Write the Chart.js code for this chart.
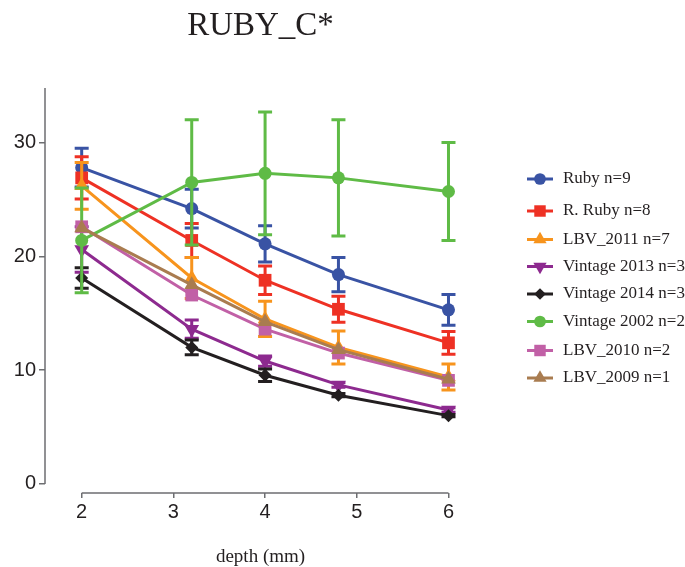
<!DOCTYPE html>
<html>
<head>
<meta charset="utf-8">
<title>RUBY_C*</title>
<script src="https://cdn.jsdelivr.net/npm/chart.js@4"></script>
<style>
  html, body { margin: 0; padding: 0; background: #fff; }
  #wrap { width: 685px; height: 567px; }
</style>
</head>
<body>
<div id="wrap"><canvas id="chart" width="685" height="567"></canvas></div>
<script>
// depth (mm) at which each series was sampled
const depth = [2, 3.2, 4, 4.8, 6];

const labels = [
  "Ruby n=9", "R. Ruby n=8", "LBV_2011 n=7", "Vintage 2013 n=3",
  "Vintage 2014 n=3", "Vintage 2002 n=2", "LBV_2010 n=2", "LBV_2009 n=1",
];

// mean C* and error
const rubyMean = [27.8, 24.2, 21.1, 18.4, 15.3];
const rubyErr = [1.7, 1.7, 1.6, 1.5, 1.35];
const rRubyMean = [26.9, 21.4, 17.9, 15.35, 12.4];
const rRubyErr = [1.85, 1.5, 1.25, 1.15, 1.0];
const lbv2011Mean = [26.2, 18.1, 14.5, 12.0, 9.4];
const lbv2011Err = [2.05, 1.8, 1.55, 1.45, 1.15];
const vin2013Mean = [20.6, 13.6, 10.8, 8.7, 6.5];
const vin2013Err = [2.0, 0.8, 0.45, 0.2, 0.2];
const vin2014Mean = [18.1, 12.0, 9.55, 7.8, 6.0];
const vin2014Err = [0.9, 0.65, 0.55, 0.15, 0.1];
const vin2002Mean = [21.4, 26.5, 27.3, 26.9, 25.7];
const vin2002Err = [4.6, 5.5, 5.4, 5.1, 4.3];
const lbv2010Mean = [22.6, 16.6, 13.6, 11.5, 9.1];
const lbv2010Err = null;
const lbv2009Mean = [22.5, 17.5, 14.25, 11.8, 9.2];
const lbv2009Err = null;

const yTicks = [0, 10, 20, 30];
const xTicks = [2, 3, 4, 5, 6];

const means = [rubyMean, rRubyMean, lbv2011Mean, vin2013Mean, vin2014Mean, vin2002Mean, lbv2010Mean, lbv2009Mean];
const errs = [rubyErr, rRubyErr, lbv2011Err, vin2013Err, vin2014Err, vin2002Err, lbv2010Err, lbv2009Err];

// styling per series
const colors = ["#3953a4", "#ee3124", "#f7941d", "#8d2a8f", "#231f20", "#5fbb46", "#c160a6", "#a97c50"];
const pointStyles = ["circle", "rect", "triangle", "triangle", "rectRot", "circle", "rect", "triangle"];
const pointRotations = [0, 0, 0, 180, 0, 0, 0, 0];
const pointRadii = [6.5, 9, 8.5, 8.5, 6.5, 6.5, 9, 8.5];

const AXIS_COLOR = "#6d6e71";
const TEXT_COLOR = "#231f20";

const datasets = labels.map((label, i) => ({
  label,
  data: depth.map((d, j) => ({ x: d, y: means[i][j] })),
  errors: errs[i],
  borderColor: colors[i],
  backgroundColor: colors[i],
  borderWidth: 3,
  pointStyle: pointStyles[i],
  rotation: pointRotations[i],
  pointRadius: pointRadii[i],
  pointBorderWidth: 0,
  tension: 0,
  clip: false,
  order: labels.length - i, // later series sit on top
}));

// error bars, drawn just before their own series so the layering is right
const errorBars = {
  id: "errorBars",
  beforeDatasetDraw(chart, args) {
    const ds = chart.data.datasets[args.index];
    if (!ds.errors) return;
    const { ctx, scales: { x, y } } = chart;
    ctx.save();
    ctx.strokeStyle = ds.borderColor;
    ctx.lineWidth = 3;
    ds.data.forEach((p, j) => {
      const e = ds.errors[j];
      if (!e) return;
      const px = x.getPixelForValue(p.x);
      const top = y.getPixelForValue(p.y + e);
      const bot = y.getPixelForValue(p.y - e);
      ctx.beginPath();
      ctx.moveTo(px, top);
      ctx.lineTo(px, bot);
      ctx.moveTo(px - 7, top);
      ctx.lineTo(px + 7, top);
      ctx.moveTo(px - 7, bot);
      ctx.lineTo(px + 7, bot);
      ctx.stroke();
    });
    ctx.restore();
  },
};

// prism-style detached axis lines
const axisLines = {
  id: "axisLines",
  beforeDatasetsDraw(chart) {
    const { ctx, chartArea, scales: { x, y } } = chart;
    ctx.save();
    ctx.strokeStyle = AXIS_COLOR;
    ctx.lineWidth = 1.5;
    ctx.beginPath();
    ctx.moveTo(chartArea.left, chartArea.top);
    ctx.lineTo(chartArea.left, y.getPixelForValue(0));
    ctx.moveTo(x.getPixelForValue(xTicks[0]), chartArea.bottom);
    ctx.lineTo(x.getPixelForValue(xTicks[xTicks.length - 1]), chartArea.bottom);
    ctx.stroke();
    ctx.restore();
  },
};

// legend on the right: short line with the marker in the middle
const sideLegend = {
  id: "sideLegend",
  afterDraw(chart) {
    const { ctx } = chart;
    const rows = [179, 211, 239.5, 266.5, 294, 321.5, 350.5, 378];
    ctx.save();
    chart.data.datasets.forEach((ds, i) => {
      const yy = rows[i];
      ctx.strokeStyle = ds.borderColor;
      ctx.lineWidth = 3;
      ctx.beginPath();
      ctx.moveTo(527, yy);
      ctx.lineTo(553, yy);
      ctx.stroke();
      ctx.fillStyle = ds.backgroundColor;
      Chart.helpers.drawPoint(ctx, {
        pointStyle: ds.pointStyle,
        rotation: ds.rotation,
        radius: ds.pointRadius * 0.9,
        borderWidth: 0,
      }, 540, yy);
      ctx.fillStyle = TEXT_COLOR;
      ctx.font = "17px 'Liberation Serif', 'Times New Roman', serif";
      ctx.textBaseline = "middle";
      ctx.textAlign = "left";
      ctx.fillText(ds.label, 563, yy);
    });
    ctx.restore();
  },
};

new Chart(document.getElementById("chart"), {
  type: "line",
  data: { datasets },
  plugins: [axisLines, errorBars, sideLegend],
  options: {
    responsive: false,
    animation: false,
    devicePixelRatio: 1,
    layout: { padding: { left: 0, right: 209, top: 0, bottom: 0 } },
    plugins: {
      legend: { display: false },
      tooltip: { enabled: false },
      title: {
        display: true,
        text: "RUBY_C*",
        fullSize: false,
        color: TEXT_COLOR,
        font: { family: "'Liberation Serif', 'Times New Roman', serif", size: 33, weight: "normal", lineHeight: 1.2 },
        padding: { top: 7, bottom: 41.4 },
      },
    },
    scales: {
      x: {
        type: "linear",
        min: 1.6,
        max: 6.3,
        afterBuildTicks: (s) => { s.ticks = xTicks.map((v) => ({ value: v })); },
        afterFit: (s) => { s.height = 74; },
        border: { display: false },
        grid: { drawOnChartArea: false, drawTicks: true, tickLength: 5, color: AXIS_COLOR, lineWidth: 1.5 },
        ticks: {
          color: TEXT_COLOR,
          padding: 2,
          font: { family: "'Liberation Sans', Arial, sans-serif", size: 20 },
        },
        title: {
          display: true,
          text: "depth (mm)",
          color: TEXT_COLOR,
          font: { family: "'Liberation Serif', 'Times New Roman', serif", size: 19, lineHeight: 1 },
          padding: { top: 0, bottom: 0 },
        },
      },
      y: {
        min: -0.8,
        max: 34.8,
        afterBuildTicks: (s) => { s.ticks = yTicks.map((v) => ({ value: v })); },
        afterFit: (s) => { s.width = 45; },
        border: { display: false },
        grid: { drawOnChartArea: false, drawTicks: true, tickLength: 6, color: AXIS_COLOR, lineWidth: 1.5 },
        ticks: {
          color: TEXT_COLOR,
          padding: 3,
          font: { family: "'Liberation Sans', Arial, sans-serif", size: 20 },
        },
      },
    },
  },
});
</script>
</body>
</html>
